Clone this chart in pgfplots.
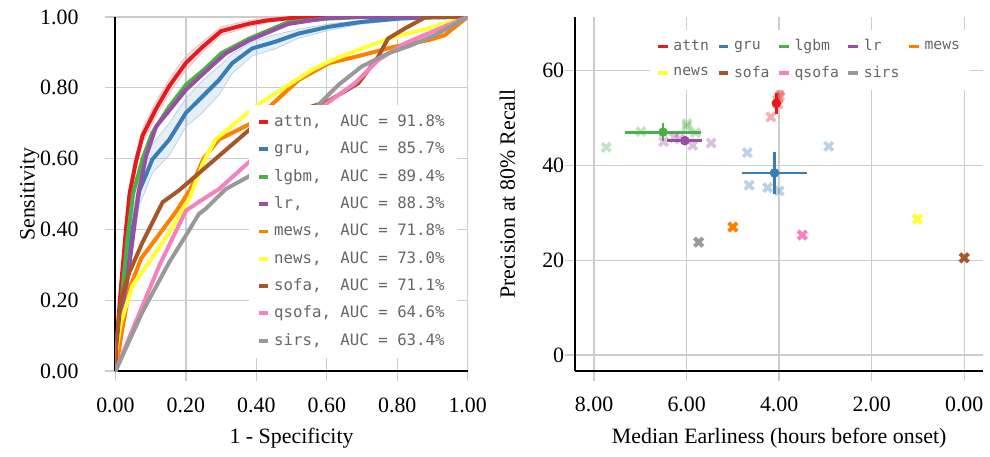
\documentclass[border=0pt]{standalone}
\usepackage{fontspec}
\setmainfont{Liberation Serif}
\setmonofont{DejaVu Sans Mono}
\usepackage{pgfplots}
\pgfplotsset{compat=1.18}
\definecolor{attnc}{HTML}{E41A1C}
\definecolor{gruc}{HTML}{377EB8}
\definecolor{lgbmc}{HTML}{4DAF4A}
\definecolor{lrc}{HTML}{984EA3}
\definecolor{mewsc}{HTML}{FF7F00}
\definecolor{newsc}{HTML}{FFFF33}
\definecolor{sofac}{HTML}{A65628}
\definecolor{qsofac}{HTML}{F781BF}
\definecolor{sirsc}{HTML}{999999}
\definecolor{gridc}{HTML}{CCCCCC}
\definecolor{legtext}{HTML}{666666}
\pgfplotsset{
  common/.style={
    scale only axis,
    axis x line*=bottom, axis y line*=left,
    axis line style={black, line width=1pt},
    grid=major, grid style={gridc, line width=0.7pt},
    tick align=outside, major tick length=5pt,
    tick style={gridc, line width=0.7pt},
    tick label style={font=\fontsize{11}{13}\selectfont},
    label style={font=\fontsize{11}{13}\selectfont},
    /pgf/number format/assume math mode=true,
  },
}
\begin{document}
\begin{tikzpicture}
% ---------------- left: ROC ----------------
\begin{axis}[common,
  at={(58pt,43pt)}, anchor=south west,
  width=177pt, height=178pt,
  xmin=0, xmax=1, ymin=0, ymax=1,
  xtick={0,0.2,0.4,0.6,0.8,1}, ytick={0,0.2,0.4,0.6,0.8,1},
  xticklabel style={yshift=-5pt, /pgf/number format/.cd, fixed, fixed zerofill, precision=2},
  yticklabel style={xshift=-10pt, /pgf/number format/.cd, fixed, fixed zerofill, precision=2},
  xlabel={1 - Specificity}, ylabel={Sensitivity},
  xlabel style={at={(axis description cs:0.5,-0.19)}, anchor=center},
  ylabel style={at={(axis description cs:-0.243,0.5)}, anchor=center},
  legend cell align=left,
  legend image code/.code={\draw[#1, line width=2pt] (0pt,0pt) -- (4.5pt,0pt);},
  legend style={at={(0.379,0.035)}, anchor=south west, draw=none, fill=white,
    font=\ttfamily\fontsize{7.9}{9}\selectfont, text=legtext, row sep=2.3pt,
    inner xsep=4pt, inner ysep=3pt},
]
% blue confidence band (upper edge, then lower edge reversed)
\addplot[fill=gruc, fill opacity=0.12, draw=none, forget plot] coordinates {
(0,0) (0.01,0.13) (0.025,0.26) (0.045,0.42) (0.068,0.55) (0.085,0.59) (0.105,0.64) (0.153,0.70) (0.2,0.77) (0.247,0.82) (0.294,0.86) (0.331,0.895) (0.388,0.93) (0.454,0.95) (0.52,0.965) (0.605,0.98) (0.7,0.99) (0.8,1) (1,1)
(0.8,0.99) (0.7,0.98) (0.605,0.962) (0.52,0.94) (0.454,0.91) (0.388,0.89) (0.331,0.84) (0.294,0.78) (0.247,0.73) (0.2,0.69) (0.153,0.61) (0.105,0.56) (0.085,0.51) (0.068,0.47) (0.045,0.34) (0.025,0.20) (0.01,0.07) (0,0)} -- cycle;
\addplot[draw=gruc!35, line width=0.4pt, forget plot] coordinates {
(0,0) (0.01,0.13) (0.025,0.26) (0.045,0.42) (0.068,0.55) (0.085,0.59) (0.105,0.64) (0.153,0.70) (0.2,0.77) (0.247,0.82) (0.294,0.86) (0.331,0.895) (0.388,0.93) (0.454,0.95) (0.52,0.965) (0.605,0.98) (0.7,0.99) (0.8,1) (1,1)};
\addplot[draw=gruc!35, line width=0.4pt, forget plot] coordinates {
(0,0) (0.01,0.07) (0.025,0.20) (0.045,0.34) (0.068,0.47) (0.085,0.51) (0.105,0.56) (0.153,0.61) (0.2,0.69) (0.247,0.73) (0.294,0.78) (0.331,0.84) (0.388,0.89) (0.454,0.91) (0.52,0.94) (0.605,0.962) (0.7,0.98) (0.8,0.99) (1,1)};
% red band
\addplot[fill=attnc, fill opacity=0.1, draw=none, forget plot] coordinates {
(0,0) (0.005,0.12) (0.015,0.25) (0.03,0.42) (0.04,0.52) (0.058,0.61) (0.077,0.685) (0.115,0.76) (0.153,0.825) (0.2,0.89) (0.247,0.93) (0.3,0.972) (0.38,0.99) (0.43,0.996) (0.5,1) (1,1)
(0.6,1) (0.5,0.994) (0.43,0.984) (0.38,0.972) (0.3,0.948) (0.247,0.90) (0.2,0.85) (0.153,0.785) (0.115,0.72) (0.077,0.645) (0.058,0.57) (0.04,0.48) (0.03,0.38) (0.015,0.21) (0.005,0.08) (0,0)} -- cycle;
\addplot[draw=attnc!30, line width=0.4pt, forget plot] coordinates {
(0,0) (0.005,0.12) (0.015,0.25) (0.03,0.42) (0.04,0.52) (0.058,0.61) (0.077,0.685) (0.115,0.76) (0.153,0.825) (0.2,0.89) (0.247,0.93) (0.3,0.972) (0.38,0.99) (0.43,0.996) (0.5,1) (1,1)};
\addplot[draw=attnc!30, line width=0.4pt, forget plot] coordinates {
(0,0) (0.005,0.08) (0.015,0.21) (0.03,0.38) (0.04,0.48) (0.058,0.57) (0.077,0.645) (0.115,0.72) (0.153,0.785) (0.2,0.85) (0.247,0.90) (0.3,0.948) (0.38,0.972) (0.43,0.984) (0.5,0.994) (0.6,1) (1,1)};

\addplot[attnc, line width=2pt] coordinates {
(0,0) (0.005,0.10) (0.015,0.23) (0.03,0.40) (0.04,0.50) (0.058,0.59) (0.077,0.665) (0.115,0.74) (0.153,0.805) (0.2,0.87) (0.247,0.915) (0.3,0.96) (0.38,0.981) (0.43,0.99) (0.5,0.997) (0.6,1) (1,1)};
\addlegendentry{attn,~~AUC~=~91.8\%}
\addplot[gruc, line width=2pt] coordinates {
(0,0) (0.01,0.10) (0.025,0.23) (0.045,0.38) (0.068,0.51) (0.085,0.55) (0.105,0.598) (0.153,0.654) (0.2,0.729) (0.247,0.775) (0.294,0.822) (0.331,0.869) (0.388,0.911) (0.454,0.93) (0.52,0.953) (0.605,0.972) (0.7,0.986) (0.8,0.995) (0.9,1) (1,1)};
\addlegendentry{gru,~~~AUC~=~85.7\%}
\addplot[lgbmc, line width=2pt] coordinates {
(0,0) (0.005,0.08) (0.02,0.23) (0.035,0.38) (0.05,0.50) (0.077,0.60) (0.105,0.673) (0.153,0.747) (0.2,0.808) (0.256,0.855) (0.3,0.897) (0.38,0.939) (0.49,0.985) (0.6,0.995) (0.7,1) (1,1)};
\addlegendentry{lgbm,~~AUC~=~89.4\%}
\addplot[lrc, line width=2pt] coordinates {
(0,0) (0.01,0.10) (0.03,0.23) (0.05,0.38) (0.065,0.50) (0.087,0.607) (0.115,0.69) (0.162,0.747) (0.2,0.794) (0.256,0.846) (0.313,0.897) (0.38,0.934) (0.49,0.98) (0.6,0.997) (0.7,1) (1,1)};
\addlegendentry{lr,~~~~AUC~=~88.3\%}
\addplot[mewsc, line width=2pt] coordinates {
(0,0) (0.02,0.121) (0.04,0.233) (0.073,0.318) (0.115,0.374) (0.171,0.449) (0.213,0.514) (0.25,0.60) (0.294,0.654) (0.388,0.701) (0.463,0.77) (0.52,0.822) (0.605,0.869) (0.7,0.892) (0.793,0.916) (0.887,0.934) (0.934,0.948) (1,1)};
\addlegendentry{mews,~~AUC~=~71.8\%}
\addplot[newsc, line width=2pt] coordinates {
(0,0) (0.002,0.056) (0.016,0.14) (0.049,0.243) (0.096,0.308) (0.153,0.392) (0.209,0.486) (0.25,0.59) (0.284,0.654) (0.34,0.70) (0.397,0.747) (0.463,0.79) (0.557,0.85) (0.605,0.874) (0.7,0.911) (0.793,0.944) (0.887,0.967) (1,1)};
\addlegendentry{news,~~AUC~=~73.0\%}
\addplot[sofac, line width=2pt] coordinates {
(0,0) (0.002,0.065) (0.016,0.206) (0.04,0.28) (0.077,0.364) (0.134,0.477) (0.18,0.51) (0.25,0.57) (0.32,0.63) (0.39,0.69) (0.5,0.73) (0.6,0.76) (0.69,0.813) (0.746,0.888) (0.774,0.939) (0.821,0.967) (0.878,0.998) (1,1)};
\addlegendentry{sofa,~~AUC~=~71.1\%}
\addplot[qsofac, line width=2pt] coordinates {
(0,0) (0.058,0.14) (0.125,0.299) (0.2,0.453) (0.24,0.48) (0.294,0.514) (0.379,0.59) (0.5,0.68) (0.595,0.752) (0.68,0.813) (0.746,0.878) (0.821,0.925) (0.887,0.953) (1,1)};
\addlegendentry{qsofa,~AUC~=~64.6\%}
\addplot[sirsc, line width=2pt] coordinates {
(0,0) (0.077,0.168) (0.153,0.308) (0.2,0.383) (0.237,0.444) (0.256,0.458) (0.313,0.514) (0.379,0.55) (0.5,0.66) (0.576,0.752) (0.633,0.808) (0.699,0.86) (0.774,0.897) (0.84,0.92) (0.906,0.948) (1,1)};
\addlegendentry{sirs,~~AUC~=~63.4\%}
\end{axis}
% ---------------- right: scatter ----------------
\begin{axis}[common,
  at={(289pt,43pt)}, anchor=south west,
  width=205pt, height=178pt,
  x dir=reverse,
  xmin=-0.41, xmax=8.41, ymin=-3.4, ymax=71.3,
  xtick={0,2,4,6,8}, ytick={0,20,40,60},
  xticklabel style={yshift=-4.5pt, /pgf/number format/.cd, fixed, fixed zerofill, precision=2},
  yticklabel style={xshift=3pt},
  xlabel={Median Earliness (hours before onset)}, ylabel={Precision at 80\% Recall},
  xlabel style={at={(axis description cs:0.5,-0.19)}, anchor=center},
  ylabel style={at={(axis description cs:-0.166,0.5)}, anchor=center},
  legend columns=5,
  legend cell align=left,
  legend image code/.code={\draw[#1, line width=1.6pt, mark=none, opacity=1] (0pt,0pt) -- (5pt,0pt);},
  legend style={at={(0.576,0.965)}, anchor=north, draw=none, fill=white,
    font=\ttfamily\fontsize{7.4}{9}\selectfont, text=legtext, row sep=2pt,
    /tikz/every even column/.append style={column sep=2pt},
    inner xsep=3pt, inner ysep=3pt},
  faint/.style={only marks, mark=x, mark size=3pt, color=#1, forget plot,
    mark options={line width=1.8pt, opacity=0.35}},
  solid x/.style={only marks, mark=x, mark size=3pt, color=#1,
    mark options={line width=2pt}},
  mean/.style={color=#1, only marks, mark=*, mark size=2.2pt,
    error bars/.cd, x dir=both, x explicit, y dir=both, y explicit,
    error mark=none, error bar style={line width=1.4pt, color=#1}},
]
\addplot[faint=attnc] coordinates {(3.99,54.6) (4.02,52.9) (4.18,50.2) (3.98,55.6) (4.04,53.8)};
\addplot[faint=gruc] coordinates {(4.69,42.7) (2.93,44.0) (4.65,35.8) (4.25,35.3) (4.00,34.6)};
\addplot[faint=lgbmc] coordinates {(7.74,43.8) (6.99,47.1) (5.99,48.8) (5.81,46.9) (6.00,48.2)};
\addplot[faint=lrc] coordinates {(6.50,45.0) (6.27,45.9) (5.87,44.2) (5.47,44.7) (6.15,45.6)};
\addplot[mean=attnc] coordinates {(4.06,53.1) +- (0.03,2.2)};
\addlegendentry{attn}
\addplot[mean=gruc] coordinates {(4.10,38.4) +- (0.71,4.5)};
\addlegendentry{gru}
\addplot[mean=lgbmc] coordinates {(6.51,47.0) +- (0.82,1.95)};
\addlegendentry{lgbm}
\addplot[mean=lrc] coordinates {(6.04,45.2) +- (0.38,0.3)};
\addlegendentry{lr}
\addplot[solid x=mewsc] coordinates {(5.00,27.0)};
\addlegendentry{mews}
\addplot[solid x=newsc] coordinates {(1.01,28.7)};
\addlegendentry{news}
\addplot[solid x=sofac] coordinates {(0.00,20.5)};
\addlegendentry{sofa}
\addplot[solid x=qsofac] coordinates {(3.50,25.3)};
\addlegendentry{qsofa}
\addplot[solid x=sirsc] coordinates {(5.74,23.8)};
\addlegendentry{sirs}
\end{axis}
\useasboundingbox (0,0) rectangle (495pt,229.5pt);
\end{tikzpicture}
\end{document}
